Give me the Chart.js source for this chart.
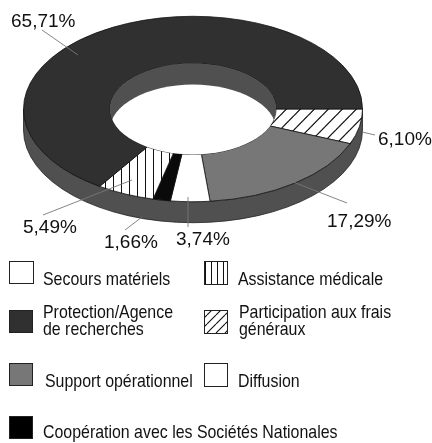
<!DOCTYPE html>
<html><head><meta charset="utf-8">
<style>html,body{margin:0;padding:0;background:#fff;overflow:hidden}canvas{display:block}</style>
<script src="https://cdn.jsdelivr.net/npm/chart.js@4"></script>
</head><body>
<canvas id="c" width="432" height="443"></canvas>
<script>
// ---- data ----
const categories = ["Participation aux frais généraux","Support opérationnel","Diffusion","Coopération avec les Sociétés Nationales","Assistance médicale","Protection/Agence de recherches","Secours matériels"];
const shares = [6.10,17.29,3.74,1.66,5.49,65.71,0];
// ---- layout ----
const TILT = 0.547, DEPTH = 21, FACE_CY = 109, TEXT_NARROW = 0.86;
const labelPos = [[378,145,375,135,362,132],[327,227,347,203,270,173],[176,245,188,227,188,197],[104,248,125,230,142,217],[23,233,43,215,132,180],[11,27,42,30,78,55]];
const legendPos = [
 {i:6,box:[9,261,25,23],text:[43,285],lines:["Secours matériels"]},
 {i:4,box:[204,261,24,24],text:[238,285],lines:["Assistance médicale"]},
 {i:5,box:[9,310,24,23],text:[43,318],lines:["Protection/Agence","de recherches"]},
 {i:0,box:[204,310,24,24],text:[239,318],lines:["Participation aux frais","généraux"]},
 {i:1,box:[9,363,24,23],text:[45,387],lines:["Support opérationnel"]},
 {i:2,box:[204,363,24,24],text:[238,387],lines:["Diffusion"]},
 {i:3,box:[9,416,24,23],text:[43,438],lines:["Coopération avec les Sociétés Nationales"]}
];
function tile(w,h,draw){const c=document.createElement('canvas');c.width=w;c.height=h;const x=c.getContext('2d');x.fillStyle='#fff';x.fillRect(0,0,w,h);draw(x,w,h);return c;}
const ctx0=document.getElementById('c').getContext('2d');
function pat(c){return ctx0.createPattern(c,'repeat');}
function diag(w,h,lw){return tile(w,h,(x)=>{x.strokeStyle='#111';x.lineWidth=lw;x.beginPath();
 for(let k=-1;k<=1;k++){x.moveTo(k*w,h);x.lineTo(k*w+w,0);}x.stroke();});}
function vert(s){return tile(s,s,(x,w,h)=>{x.fillStyle='#111';x.fillRect(1,0,1,h);});}
const DARK='#303030',GREY='#777777',WALL='#505050';
const sliceFill=[pat(diag(14,26,1.5)),GREY,'#fff','#0a0a0a',pat(vert(8)),DARK,'#fff'];
const swatchFill=[pat(diag(9,9,1.1)),GREY,'#fff','#000',pat(vert(6)),DARK,'#fff'];

const tilted={id:'tilted',
 beforeDatasetsDraw(chart){
  const a=chart.getDatasetMeta(0).data[0],c=chart.ctx,R=a.outerRadius;
  c.save();
  c.fillStyle=WALL;c.strokeStyle='#222';c.lineWidth=.8;
  c.beginPath();c.moveTo(a.x-R,FACE_CY);c.lineTo(a.x-R,FACE_CY+DEPTH);
  c.ellipse(a.x,FACE_CY+DEPTH,R,R*TILT,0,Math.PI,0,true);
  c.lineTo(a.x+R,FACE_CY);c.ellipse(a.x,FACE_CY,R,R*TILT,0,0,Math.PI,false);c.closePath();c.fill();c.stroke();
  c.translate(a.x,FACE_CY);c.scale(1,TILT);c.translate(-a.x,-a.y);
 },
 afterDatasetsDraw(chart){
  const a=chart.getDatasetMeta(0).data[0],c=chart.ctx,r=a.innerRadius;
  c.restore();
  c.save();
  c.beginPath();c.ellipse(a.x,FACE_CY,r,r*TILT,0,0,Math.PI*2);c.clip();
  c.fillStyle=WALL;c.fillRect(a.x-r,FACE_CY-r,2*r,2*r);
  c.fillStyle='#fff';c.beginPath();c.ellipse(a.x,FACE_CY+DEPTH,r,r*TILT,0,0,Math.PI*2);c.fill();
  c.restore();
  // percentage labels with leader lines
  c.save();
  c.strokeStyle='#777';c.lineWidth=.9;
  labelPos.forEach(p=>{c.beginPath();c.moveTo(p[2],p[3]);c.lineTo(p[4],p[5]);c.stroke();});
  c.fillStyle='#111';c.font='19px "Liberation Sans"';c.textBaseline='alphabetic';
  labelPos.forEach((p,i)=>c.fillText(shares[i].toFixed(2).replace('.',',')+'%',p[0],p[1]));
  // legend
  c.font='18.5px "Liberation Sans"';
  legendPos.forEach(l=>{
   const [x,y,w,h]=l.box;
   c.fillStyle=swatchFill[l.i];c.fillRect(x,y,w,h);
   c.strokeStyle='#222';c.lineWidth=1;c.strokeRect(x+.5,y+.5,w-1,h-1);
   c.fillStyle='#111';
   l.lines.forEach((t,j)=>{c.save();c.translate(l.text[0],l.text[1]+j*17);c.scale(TEXT_NARROW,1);c.fillText(t,0,0);c.restore();});
  });
  c.restore();
 }};

new Chart(ctx0,{type:'doughnut',
 data:{labels:categories,datasets:[{data:shares,backgroundColor:sliceFill,borderColor:'#111',borderWidth:1,clip:false}]},
 options:{responsive:false,animation:false,rotation:90,cutout:'49%',events:[],
  layout:{padding:{left:23,right:69,top:0,bottom:103}},
  plugins:{legend:{display:false},tooltip:{enabled:false},title:{display:false}}},
 plugins:[tilted]});
</script>
</body></html>
